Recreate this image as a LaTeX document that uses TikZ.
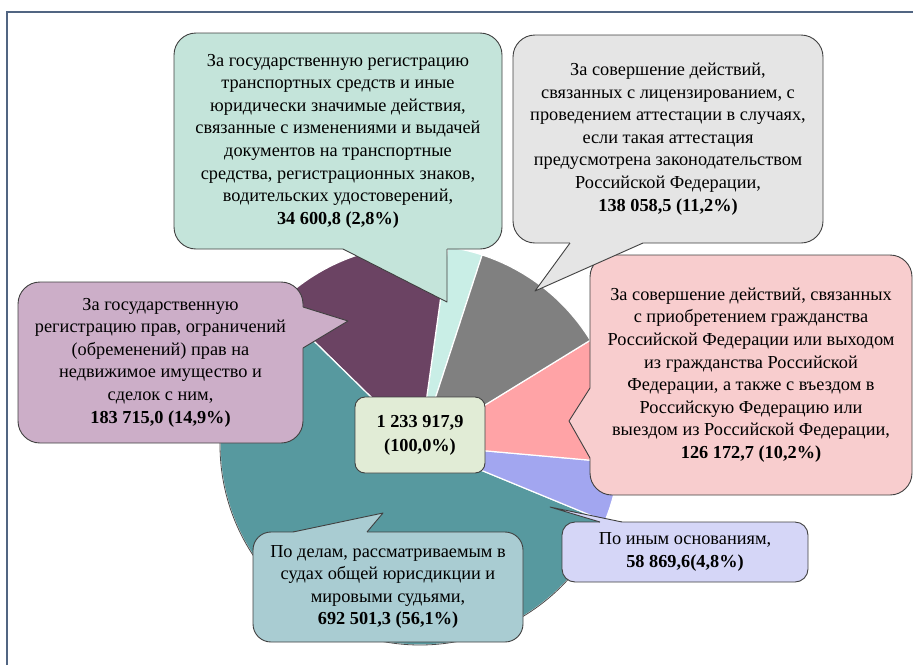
\documentclass[tikz,border=0pt]{standalone}
\usepackage{fontspec}
\setmainfont{Liberation Serif}
\newfontfamily\tnr{Liberation Serif}
\usetikzlibrary{calc}
\definecolor{frameCol}{HTML}{516582}
\definecolor{slLt}{HTML}{C9EEE6}
\definecolor{slPurple}{HTML}{6B4363}
\definecolor{slTeal}{HTML}{57999F}
\definecolor{slBlue}{HTML}{A2A6F0}
\definecolor{slPink}{HTML}{FFA3A6}
\definecolor{slGray}{HTML}{808080}
\definecolor{bxLt}{HTML}{C4E4DA}
\definecolor{bxGray}{HTML}{E5E5E5}
\definecolor{bxPink}{HTML}{F8CDCE}
\definecolor{bxBlue}{HTML}{D5D6F7}
\definecolor{bxTeal}{HTML}{A9CCD2}
\definecolor{bxPurple}{HTML}{CCAEC8}
\definecolor{bxTotal}{HTML}{E1ECD6}
\tikzset{bubble/.style = {draw=black!75, line width=0.9pt, rounded corners=22pt, inner sep=0pt, align=center, font=\tnr\fontsize{18.3}{22.6}\selectfont}}
\tikzset{pointer/.style = {draw=black!75, line width=0.9pt, line join=round}}
\tikzset{slice/.style = {draw=white, line width=1.2pt, line join=round}}

\begin{document}
\begin{tikzpicture}[x=1pt, y=-1pt]
\useasboundingbox (0,0) rectangle (913,665);
\draw[frameCol, line width=2pt] (7,665) -- (7,12) -- (913,12);

% pie, 82 degrees at the top
\begin{scope}[shift={(420,445)}, yscale=-1]
\coordinate (O) at (0,0);
\fill[slice, fill=slLt] (O) -- (71.9:200) arc[start angle=71.9, end angle=82, radius=200] -- cycle;
\fill[slice, fill=slPurple] (O) -- (82:200) arc[start angle=82, end angle=135.6, radius=200] -- cycle;
\fill[slice, fill=slTeal] (O) -- (135.6:200) arc[start angle=135.6, end angle=337.6, radius=200] -- cycle;
\fill[slice, fill=slBlue] (O) -- (337.6:200) arc[start angle=337.6, end angle=354.9, radius=200] -- cycle;
\fill[slice, fill=slPink] (O) -- (354.9:200) arc[start angle=354.9, end angle=391.6, radius=200] -- cycle;
\fill[slice, fill=slGray] (O) -- (31.6:200) arc[start angle=31.6, end angle=71.9, radius=200] -- cycle;
\draw[black!70, line width=0.8pt] (135.6:200) arc[start angle=135.6, end angle=337.6, radius=200];
\end{scope}

% callouts
\node[bubble, fill=bxLt, minimum width=328, minimum height=216] (trans) at (338,141) {За государственную регистрацию\\транспортных средств и иные\\юридически значимые действия,\\связанные с изменениями и выдачей\\документов на транспортные\\средства, регистрационных знаков,\\водительских удостоверений,\\\textbf{34 600,8 (2,8\%)}};
\node[bubble, fill=bxGray, minimum width=310, minimum height=208] (lic) at (668,139) {За совершение действий,\\связанных с лицензированием, с\\проведением аттестации в случаях,\\если такая аттестация\\предусмотрена законодательством\\Российской Федерации,\\\textbf{138 058,5 (11,2\%)}};
\node[bubble, fill=bxPink, minimum width=322, minimum height=240] (cit) at (751,375) {За совершение действий, связанных\\с приобретением гражданства\\Российской Федерации или выходом\\из гражданства Российской\\Федерации, а также с въездом в\\Российскую Федерацию или\\выездом из Российской Федерации,\\\textbf{126 172,7 (10,2\%)}};
\node[bubble, fill=bxBlue, rounded corners=13pt, minimum width=246, minimum height=60] (oth) at (685,552) {По иным основаниям,\\\textbf{58 869,6(4,8\%)}};
\node[bubble, fill=bxTeal, rounded corners=18pt, minimum width=270, minimum height=110] (court) at (388,587) {По делам, рассматриваемым в\\судах общей юрисдикции и\\мировыми судьями,\\\textbf{692 501,3 (56,1\%)}};
\node[bubble, fill=bxPurple, minimum width=285, minimum height=161] (prop) at (160.5,362.5) {За государственную\\регистрацию прав, ограничений\\(обременений) прав на\\недвижимое имущество и\\сделок с ним,\\\textbf{183 715,0 (14,9\%)}};
\node[bubble, fill=bxTotal, rounded corners=10pt, minimum width=130, minimum height=76, font=\tnr\fontsize{18.3}{24}\selectfont\bfseries] (total) at (420,435) {1 233 917,9\\(100,0\%)};

% pointers
\coordinate (tipTrans) at (447,302);
\coordinate (tipLic) at (535,291);
\coordinate (tipCit) at (569,421);
\coordinate (tipOth) at (550,507);
\coordinate (tipCourt) at (383,513);
\coordinate (tipProp) at (348,321);
\fill[bxLt] (343,247) -- (343,249) -- (tipTrans) -- (447,249) -- (447,247) -- cycle;
\draw[pointer] (343,249) -- (tipTrans) -- (447,249);
\fill[bxGray] (570,241) -- (570,243) -- (tipLic) -- (643,243) -- (643,241) -- cycle;
\draw[pointer] (570,243) -- (tipLic) -- (643,243);
\fill[bxPink] (592,388) -- (590,388) -- (tipCit) -- (590,458) -- (592,458) -- cycle;
\draw[pointer] (590,388) -- (tipCit) -- (590,458);
\fill[bxBlue] (600,524) -- (600,522) -- (tipOth) -- (622,522) -- (622,524) -- cycle;
\draw[pointer] (600,522) -- (tipOth) -- (622,522);
\fill[bxTeal] (293,534) -- (293,532) -- (tipCourt) -- (367,532) -- (367,534) -- cycle;
\draw[pointer] (293,532) -- (tipCourt) -- (367,532);
\fill[bxPurple] (301,307) -- (303,307) -- (tipProp) -- (303,348) -- (301,348) -- cycle;
\draw[pointer] (303,307) -- (tipProp) -- (303,348);
\end{tikzpicture}
\end{document}
